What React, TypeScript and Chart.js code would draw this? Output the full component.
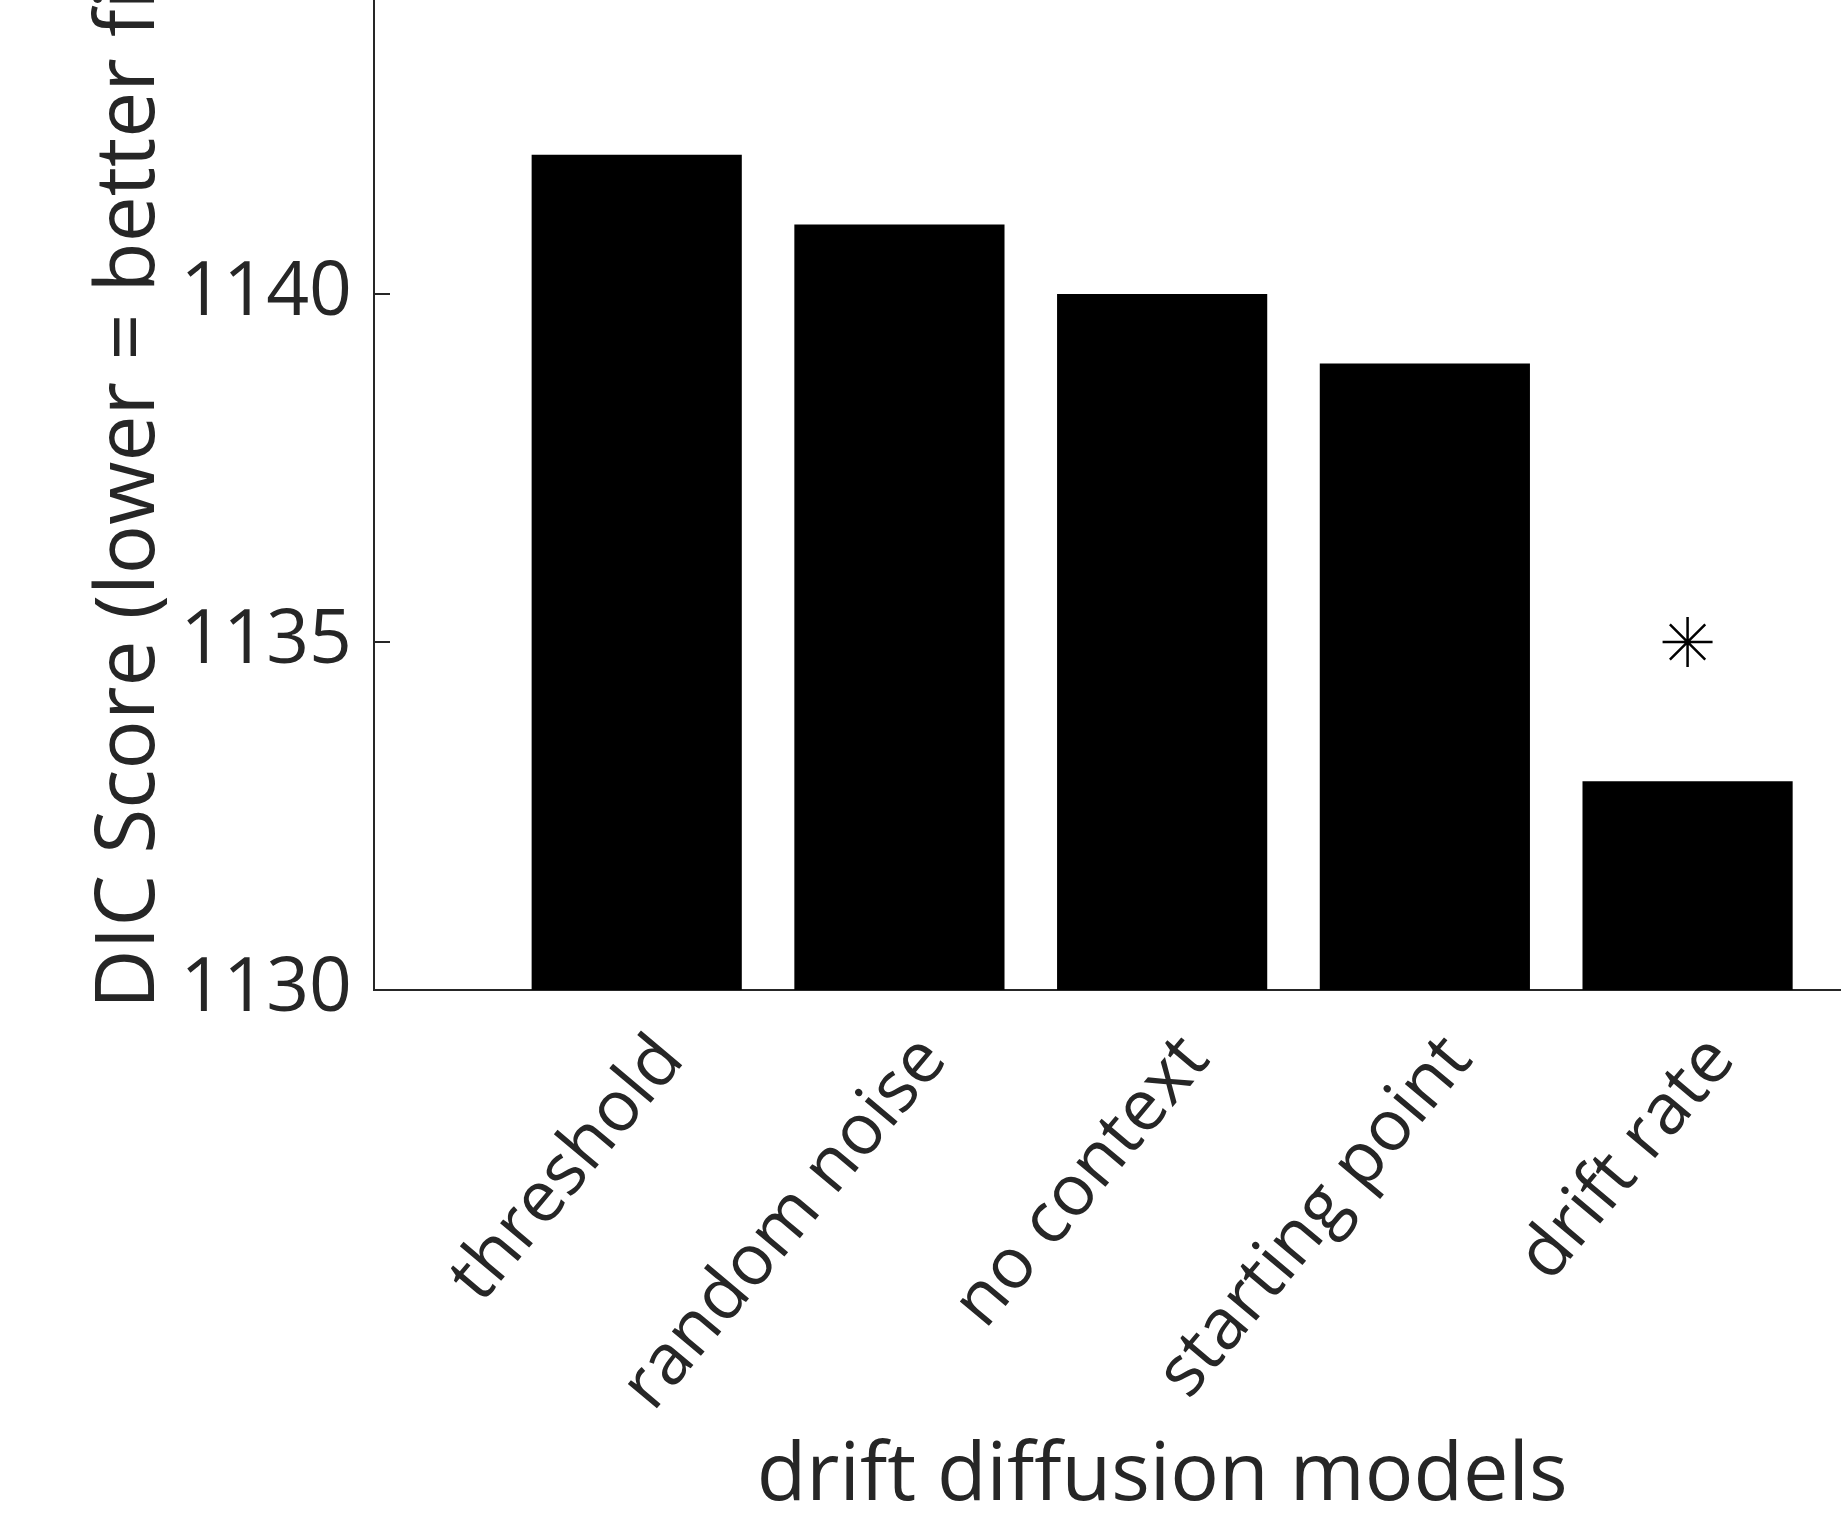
import React, { useEffect, useRef } from 'react';
import { Chart, registerables } from 'chart.js';

Chart.register(...registerables);

// ---- data ----
const categories = ['threshold', 'random noise', 'no context', 'starting point', 'drift rate'];
const categoryPositions = [1, 2, 3, 4, 5];
const dicScores = [1142, 1141, 1140, 1139, 1133];
const markerPositions = [5];
const markerValues = [1135];
const yTickValues = [1130, 1135, 1140, 1145];
const xAxisTitle = 'drift diffusion models';
const yAxisTitle = 'DIC Score (lower = better fit)';

// ---- layout / style ----
const W = 1841;
const H = 1520;
const AXIS_LEFT = 374;
const AXIS_BOTTOM = 990;
const X_MIN = 0;
const X_MAX = 5.584;
const Y_MIN = 1130;
const Y_MAX = 1144.224;
const TEXT = '#262626';
const FONT = '"Open Sans", "DejaVu Sans", sans-serif';

const decorPlugin = {
  id: 'matlabDecor',
  afterDraw(chart: any) {
    const { ctx, scales, chartArea } = chart;
    const x = scales.x;
    const y = scales.y;
    ctx.save();
    ctx.strokeStyle = TEXT;
    ctx.lineWidth = 2;
    yTickValues.forEach((v) => {
      if (v > y.max) return;
      const py = Math.round(y.getPixelForValue(v));
      ctx.beginPath();
      ctx.moveTo(chartArea.left, py);
      ctx.lineTo(chartArea.left + 16, py);
      ctx.stroke();
    });
    ctx.fillStyle = TEXT;
    ctx.font = `81px ${FONT}`;
    ctx.textAlign = 'center';
    ctx.textBaseline = 'alphabetic';
    ctx.fillText(xAxisTitle, x.getPixelForValue(3), 1500);
    ctx.font = `82px ${FONT}`;
    ctx.translate(154, 1009);
    ctx.rotate(-Math.PI / 2);
    ctx.textAlign = 'left';
    ctx.fillText(yAxisTitle, 0, 0);
    ctx.restore();
  },
};

export default function App() {
  const ref = useRef<HTMLCanvasElement | null>(null);

  useEffect(() => {
    if (!ref.current) return;
    const chart = new Chart(ref.current, {
      type: 'bar',
      data: {
        datasets: [
          {
            type: 'bar',
            data: categoryPositions.map((p, i) => ({ x: p, y: dicScores[i] })),
            backgroundColor: '#000000',
            borderWidth: 0,
            barPercentage: 0.8,
            categoryPercentage: 1.0,
          } as any,
          {
            type: 'scatter',
            data: markerPositions.map((p, i) => ({ x: p, y: markerValues[i] })),
            pointStyle: 'star',
            pointRadius: 25,
            borderColor: '#000000',
            backgroundColor: 'rgba(0,0,0,0)',
            borderWidth: 2.5,
            showLine: false,
          } as any,
        ],
      },
      options: {
        animation: false,
        responsive: false,
        devicePixelRatio: 1,
        layout: { padding: 0, autoPadding: false },
        plugins: {
          legend: { display: false },
          tooltip: { enabled: false },
        },
        scales: {
          x: {
            type: 'linear',
            min: X_MIN,
            max: X_MAX,
            offset: false,
            grid: { display: false, drawTicks: false },
            border: { display: true, color: TEXT, width: 2 },
            afterBuildTicks: (s: any) => {
              s.ticks = categoryPositions.map((v) => ({ value: v }));
            },
            afterFit: (s: any) => {
              s.height = H - AXIS_BOTTOM;
              s.paddingLeft = 0;
              s.paddingRight = 0;
              s.paddingTop = 0;
              s.paddingBottom = 0;
            },
            ticks: {
              autoSkip: false,
              minRotation: 50,
              maxRotation: 50,
              padding: 30,
              labelOffset: 34,
              color: TEXT,
              font: { family: FONT, size: 71 },
              callback: (v: any) => {
                const i = categoryPositions.indexOf(Number(v));
                return i >= 0 ? categories[i] : '';
              },
            },
          },
          y: {
            type: 'linear',
            min: Y_MIN,
            max: Y_MAX,
            beginAtZero: false,
            grid: { display: false, drawTicks: false },
            border: { display: true, color: TEXT, width: 2 },
            afterBuildTicks: (s: any) => {
              s.ticks = yTickValues.filter((v) => v <= s.max).map((v) => ({ value: v }));
            },
            afterFit: (s: any) => {
              s.width = AXIS_LEFT;
              s.paddingLeft = 0;
              s.paddingRight = 0;
              s.paddingTop = 0;
              s.paddingBottom = 0;
            },
            ticks: {
              padding: 22,
              color: TEXT,
              font: { family: FONT, size: 75 },
              callback: (v: any) => String(v),
            },
          },
        },
      } as any,
      plugins: [decorPlugin],
    });
    return () => chart.destroy();
  }, []);

  return (
    <div style={{ position: 'absolute', left: 0, top: 0, width: W, height: H, background: '#ffffff' }}>
      <canvas ref={ref} width={W} height={H} style={{ display: 'block', width: W, height: H }} />
    </div>
  );
}
